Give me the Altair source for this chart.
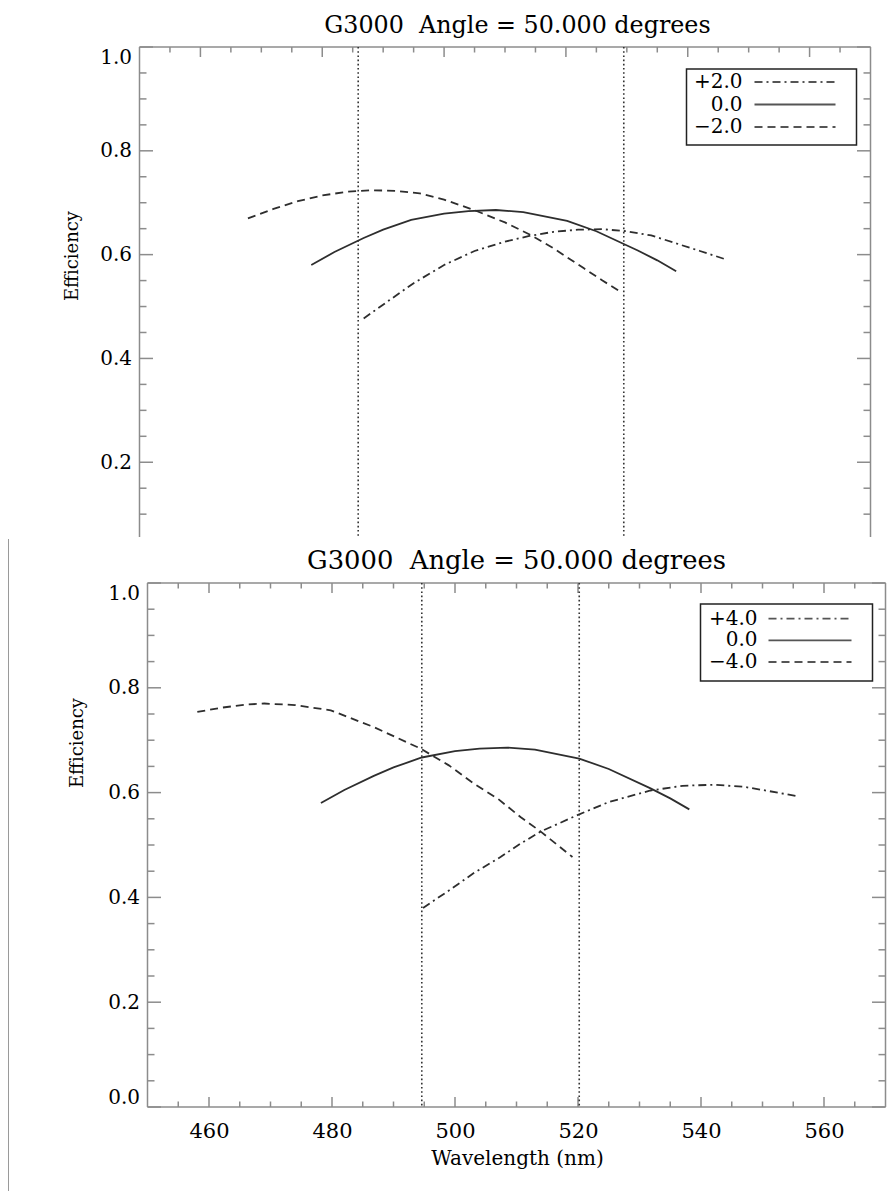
import altair as alt
import pandas as pd

# ------------------------------------------------------------------ text
TITLE = "G3000\u00a0\u00a0Angle = 50.000 degrees"
X_TITLE = "Wavelength (nm)"
Y_TITLE = "Efficiency"

# ------------------------------------------------------------------ axes
X_DOMAIN = [450, 570]
X_MAJOR = [460, 480, 500, 520, 540, 560]
X_MINOR = [455, 465, 470, 475, 485, 490, 495, 505, 510, 515, 525, 530, 535,
           545, 550, 555, 565]
Y_MAJOR = [0.0, 0.2, 0.4, 0.6, 0.8, 1.0]
Y_MINOR = [0.05, 0.10, 0.15, 0.25, 0.30, 0.35, 0.45, 0.50, 0.55, 0.65, 0.70,
           0.75, 0.85, 0.90, 0.95]

# ------------------------------------------------------------------ data
# 0.0 curve (same in both panels)
ZERO_X = [478.2, 482, 486.8, 490, 494.6, 500, 504, 508.5, 513, 520.2, 525,
          531.8, 535, 538.1]
ZERO_Y = [0.580, 0.605, 0.632, 0.648, 0.667, 0.679, 0.684, 0.686, 0.682,
          0.665, 0.645, 0.608, 0.589, 0.568]

# top panel : +/-2.0
TOP_LABELS = ["+2.0", "0.0", "\u22122.0"]
TOP_PLUS_X = [486.8, 491, 495, 500, 505, 510, 514, 518, 522, 526, 530, 534,
              538, 542, 546.2]
TOP_PLUS_Y = [0.477, 0.512, 0.545, 0.580, 0.607, 0.625, 0.636, 0.644, 0.648,
              0.649, 0.645, 0.637, 0.622, 0.607, 0.591]
TOP_MINUS_X = [467.8, 472, 476, 480, 484, 488, 492, 496, 500, 504.9, 510,
               514.2, 518, 522.9, 526, 528.9]
TOP_MINUS_Y = [0.670, 0.688, 0.703, 0.714, 0.721, 0.724, 0.723, 0.718, 0.706,
               0.686, 0.662, 0.638, 0.612, 0.574, 0.550, 0.529]
TOP_CUTS = [485.9, 529.5]
TOP_Y_MIN = 0.056

# bottom panel : +/-4.0
BOT_LABELS = ["+4.0", "0.0", "\u22124.0"]
BOT_PLUS_X = [494.8, 499, 503, 507.4, 510.7, 514.0, 519.9, 525, 531.8, 537,
              542.1, 547, 551, 555.7]
BOT_PLUS_Y = [0.380, 0.413, 0.446, 0.477, 0.503, 0.526, 0.557, 0.582, 0.604,
              0.613, 0.615, 0.611, 0.603, 0.593]
BOT_MINUS_X = [458.1, 462, 466, 469, 474, 479.8, 486.8, 494.4, 499, 503.1,
               507, 510.7, 514.0, 519.1]
BOT_MINUS_Y = [0.754, 0.762, 0.768, 0.770, 0.767, 0.757, 0.725, 0.684, 0.652,
               0.617, 0.588, 0.553, 0.525, 0.477]
BOT_CUTS = [494.6, 520.2]
BOT_Y_MIN = 0.0

# ------------------------------------------------------------------ style
FONT = "DejaVu Serif"
AX = "#8c8c8c"
INK = "#2e2e2e"
DASHDOT = [8, 4, 2, 4]
DASHED = [8, 5]
STYLES = [{"strokeDash": DASHDOT}, {}, {"strokeDash": DASHED}]
LW = 1.8


def one():
    return pd.DataFrame({"k": [0]})


def panel(W, H, inset, ymin, series, cuts, labels, leg, title_x, title_size,
          eff, bottom, extra):
    # the frame starts `inset` px right of the view origin (the two panels of
    # the picture are shifted against each other)
    px_per_nm = (W - inset) / (X_DOMAIN[1] - X_DOMAIN[0])
    XS = alt.Scale(domain=[X_DOMAIN[0] - inset / px_per_nm, X_DOMAIN[1]],
                   nice=False, zero=False)
    YS = alt.Scale(domain=[ymin, 1.0], nice=False, zero=False)
    ymaj_vals = [v for v in Y_MAJOR if v >= ymin]
    yaxis = alt.Axis(values=ymaj_vals, format=".1f", ticks=False,
                     tickSize=0, domain=False, grid=False, title=None,
                     labelFlush=True, labelPadding=8 - inset, labelFont=FONT,
                     labelFontSize=20, labelColor="black")
    if bottom:
        xaxis = alt.Axis(values=X_MAJOR, format="d", ticks=False, tickSize=0,
                         domain=False, grid=False, title=None, labelPadding=13,
                         labelFont=FONT, labelFontSize=21, labelColor="black",
                         labelFlush=False)
    else:
        xaxis = None

    def X(f):
        return alt.X(f, scale=XS, axis=xaxis)

    def Y(f):
        return alt.Y(f, scale=YS, axis=yaxis)

    x0 = inset
    L = []
    # frame
    L.append(alt.Chart(one()).mark_rule(color=AX, strokeWidth=1.5).encode(
        x=alt.value(x0), y=alt.value(0), y2=alt.value(H)))
    L.append(alt.Chart(one()).mark_rule(color=AX, strokeWidth=1.5).encode(
        x=alt.value(W), y=alt.value(0), y2=alt.value(H)))
    L.append(alt.Chart(one()).mark_rule(color=AX, strokeWidth=1.5).encode(
        x=alt.value(x0), x2=alt.value(W), y=alt.value(0)))
    if bottom:
        L.append(alt.Chart(one()).mark_rule(color=AX, strokeWidth=1.5).encode(
            x=alt.value(x0), x2=alt.value(W), y=alt.value(H)))

    ymaj = pd.DataFrame({"v": ymaj_vals})
    ymin_df = pd.DataFrame({"v": [v for v in Y_MINOR if v >= ymin]})
    xmaj = pd.DataFrame({"v": X_MAJOR})
    xmin_df = pd.DataFrame({"v": X_MINOR})

    # y ticks (left, right)
    L.append(alt.Chart(ymaj).mark_rule(color=AX, strokeWidth=1.5).encode(
        y=Y("v:Q"), x=alt.value(x0), x2=alt.value(x0 + 13.5)))
    L.append(alt.Chart(ymaj).mark_rule(color=AX, strokeWidth=1.5).encode(
        y=Y("v:Q"), x=alt.value(W - 13.5), x2=alt.value(W)))
    L.append(alt.Chart(ymin_df).mark_rule(color=AX, strokeWidth=1.5).encode(
        y=Y("v:Q"), x=alt.value(x0), x2=alt.value(x0 + 7)))
    L.append(alt.Chart(ymin_df).mark_rule(color=AX, strokeWidth=1.5).encode(
        y=Y("v:Q"), x=alt.value(W - 7), x2=alt.value(W)))

    # x ticks (top, bottom)
    L.append(alt.Chart(xmaj).mark_rule(color=AX, strokeWidth=1.5).encode(
        x=X("v:Q"), y=alt.value(0), y2=alt.value(10)))
    L.append(alt.Chart(xmin_df).mark_rule(color=AX, strokeWidth=1.5).encode(
        x=X("v:Q"), y=alt.value(0), y2=alt.value(5.5)))
    if bottom:
        L.append(alt.Chart(xmaj).mark_rule(color=AX, strokeWidth=1.5).encode(
            x=X("v:Q"), y=alt.value(H - 10), y2=alt.value(H)))
        L.append(alt.Chart(xmin_df).mark_rule(color=AX, strokeWidth=1.5).encode(
            x=X("v:Q"), y=alt.value(H - 5.5), y2=alt.value(H)))

    # dotted cut lines
    L.append(alt.Chart(pd.DataFrame({"v": cuts})).mark_rule(
        color="#333", strokeWidth=1.6, strokeDash=[1.6, 2.6]).encode(
        x=X("v:Q"), y=alt.value(0), y2=alt.value(H)))

    # curves
    for (xs, ys), st in zip(series, STYLES):
        L.append(alt.Chart(pd.DataFrame({"x": xs, "y": ys})).mark_line(
            color=INK, strokeWidth=LW, **st).encode(x=X("x:Q"), y=Y("y:Q")))

    # legend
    bx1, bx2, by1, by2, tx, lx1, lx2, rows = leg
    L.append(alt.Chart(one()).mark_rect(fill="white", stroke="#222",
                                        strokeWidth=1.5).encode(
        x=alt.value(bx1), x2=alt.value(bx2), y=alt.value(by1), y2=alt.value(by2)))
    for lab, ry, st in zip(labels, rows, STYLES):
        L.append(alt.Chart(one()).mark_text(
            align="right", baseline="middle", font=FONT, fontSize=20,
            color="black").encode(x=alt.value(tx), y=alt.value(ry),
                                  text=alt.value(lab)))
        L.append(alt.Chart(one()).mark_rule(color="#555", strokeWidth=LW,
                                            **st).encode(
            x=alt.value(lx1), x2=alt.value(lx2), y=alt.value(ry)))

    # titles
    L.append(alt.Chart(one()).mark_text(
        align="center", baseline="alphabetic", font=FONT, fontSize=title_size,
        color="black").encode(x=alt.value(title_x), y=alt.value(-14),
                              text=alt.value(TITLE)))
    L.append(alt.Chart(one()).mark_text(
        align="center", baseline="middle", font=FONT, fontSize=18, angle=270,
        color="black").encode(x=alt.value(eff[0]), y=alt.value(eff[1]),
                              text=alt.value(Y_TITLE)))
    if bottom:
        L.append(alt.Chart(one()).mark_text(
            align="center", baseline="alphabetic", font=FONT, fontSize=20,
            color="black").encode(x=alt.value(x0 + 370), y=alt.value(H + 58),
                                  text=alt.value(X_TITLE)))
    # extra edge element (crop line)
    if extra is not None:
        L.append(extra)
    return alt.layer(*L).properties(width=W, height=H)


top = panel(
    731, 490, 0, TOP_Y_MIN,
    [(TOP_PLUS_X, TOP_PLUS_Y), (ZERO_X, ZERO_Y), (TOP_MINUS_X, TOP_MINUS_Y)],
    TOP_CUTS, TOP_LABELS,
    (547, 717, 22, 98, 603, 615, 696, [35, 57.5, 80]),
    378, 23.8, (-67, 209), False, None,
)

bot = panel(
    746, 524, 8, BOT_Y_MIN,
    [(BOT_PLUS_X, BOT_PLUS_Y), (ZERO_X, ZERO_Y), (BOT_MINUS_X, BOT_MINUS_Y)],
    BOT_CUTS, BOT_LABELS,
    (561, 733, 21, 98, 618, 629, 712, [35.7, 57.3, 79]),
    377, 25.8, (-62, 160), True,
    alt.Chart(one()).mark_rule(color="#9a9a9a", strokeWidth=1).encode(
        x=alt.value(-131), y=alt.value(-44), y2=alt.value(610)),
)

chart = alt.vconcat(top, bot, spacing=0).properties(
    padding={"left": 7.5, "top": 14, "right": 5, "bottom": 0}
).configure_view(stroke=None)

chart.save("out.html", embed_options={"renderer": "svg", "actions": False})
